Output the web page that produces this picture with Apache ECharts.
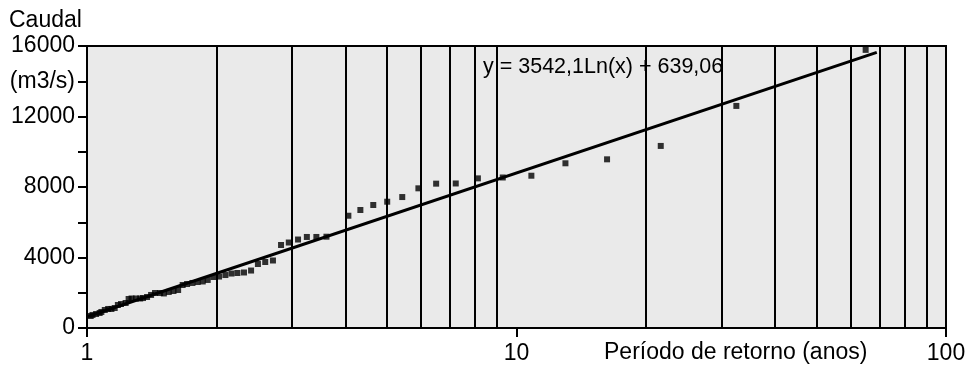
<!DOCTYPE html>
<html>
<head>
<meta charset="utf-8">
<script src="https://cdn.jsdelivr.net/npm/echarts@6/dist/echarts.min.js"></script>
<style>
html, body { margin: 0; padding: 0; background: #fff; }
#chart { width: 970px; height: 369px; }
</style>
</head>
<body>
<div id="chart"></div>
<script>
// período de retorno (anos) de cada ponto
var periodos = [65, 32.5, 21.67, 16.25, 13, 10.83, 9.29, 8.13, 7.22, 6.5,
    5.91, 5.42, 5.0, 4.64, 4.33, 4.06, 3.61, 3.42, 3.25, 3.1,
    2.95, 2.83, 2.71, 2.6, 2.5, 2.41, 2.32, 2.24, 2.17, 2.1,
    2.03, 1.97, 1.91, 1.86, 1.81, 1.76, 1.71, 1.67, 1.63, 1.59,
    1.55, 1.51, 1.48, 1.44, 1.41, 1.38, 1.35, 1.33, 1.3, 1.27,
    1.25, 1.23, 1.2, 1.18, 1.16, 1.14, 1.12, 1.1, 1.08, 1.07,
    1.05, 1.03, 1.02];
// caudal (m3/s)
var caudais = [15780, 12600, 10330, 9570, 9345, 8640, 8540, 8490, 8200, 8190,
    7925, 7430, 7165, 6980, 6695, 6370, 5180, 5165, 5165, 5020,
    4850, 4710, 3830, 3745, 3630, 3260, 3150, 3120, 3090, 3005,
    2920, 2895, 2725, 2640, 2610, 2555, 2495, 2440, 2155, 2100,
    2045, 1960, 1985, 1985, 1875, 1760, 1700, 1675, 1675, 1675,
    1645, 1420, 1360, 1305, 1135, 1080, 1080, 1020, 910, 850,
    795, 740, 680];
// linha de tendência: y = 3542,1Ln(x) + 639,06
var tendX = [1, 69];
var tendY = [639, 15637];
// linhas verticais da grelha
var grelhaX = [2, 3, 4, 5, 6, 7, 8, 9, 20, 30, 40, 50, 60, 70, 80, 90];
var yLabels = {0: '0', 4000: '4000', 8000: '8000', 12000: '12000', 14000: '(m3/s)', 16000: '16000'};

var font = "'Liberation Sans', Arial, sans-serif";
var chart = echarts.init(document.getElementById('chart'));

var pontos = [];
for (var i = 0; i < periodos.length; i++) {
    pontos.push([periodos[i], caudais[i]]);
}
var tend = [];
for (var j = 0; j < tendX.length; j++) {
    tend.push([tendX[j], tendY[j]]);
}
var marcas = [];
for (var k = 0; k < grelhaX.length; k++) {
    marcas.push({xAxis: grelhaX[k]});
}

var option = {
    animation: false,
    grid: {
        left: 87,
        right: 24,
        top: 46,
        bottom: 41,
        show: true,
        backgroundColor: '#eaeaea',
        borderColor: '#000',
        borderWidth: 2
    },
    xAxis: {
        type: 'log',
        logBase: 10,
        min: 1,
        max: 100,
        axisLine: { show: true, lineStyle: { color: '#000', width: 2 } },
        axisTick: { show: true, length: 9, lineStyle: { color: '#000', width: 2 } },
        axisLabel: { color: '#000', fontSize: 23, fontFamily: font, margin: 14 },
        splitLine: { show: false },
        minorTick: { show: false }
    },
    yAxis: {
        type: 'value',
        min: 0,
        max: 16000,
        interval: 2000,
        axisLine: { show: true, lineStyle: { color: '#000', width: 2 } },
        axisTick: { show: true, length: 9, lineStyle: { color: '#000', width: 2 } },
        axisLabel: {
            color: '#000', fontSize: 23, fontFamily: font, margin: 12,
            formatter: function (v) { return yLabels[v] !== undefined ? yLabels[v] : ''; }
        },
        splitLine: { show: false }
    },
    graphic: [
        { type: 'text', left: 9, top: 9, style: { text: 'Caudal', fill: '#000', font: '23px ' + font } },
        { type: 'text', left: 604, top: 341, style: { text: 'Período de retorno (anos)', fill: '#000', font: '23px ' + font } },
        { type: 'text', left: 483, top: 56, z: 100, style: { text: 'y = 3542,1Ln(x) + 639,06', fill: '#000', font: '21.5px ' + font } }
    ],
    series: [
        {
            type: 'line',
            data: [],
            silent: true,
            markLine: {
                silent: true,
                symbol: ['none', 'none'],
                label: { show: false },
                lineStyle: { color: '#000', width: 2, type: 'solid' },
                data: marcas
            }
        },
        {
            type: 'scatter',
            data: pontos,
            symbol: 'rect',
            symbolSize: 6,
            itemStyle: { color: '#000' }
        },
        {
            type: 'line',
            data: tend,
            symbol: 'none',
            lineStyle: { color: '#000', width: 3 }
        }
    ]
};
chart.setOption(option);
</script>
</body>
</html>
